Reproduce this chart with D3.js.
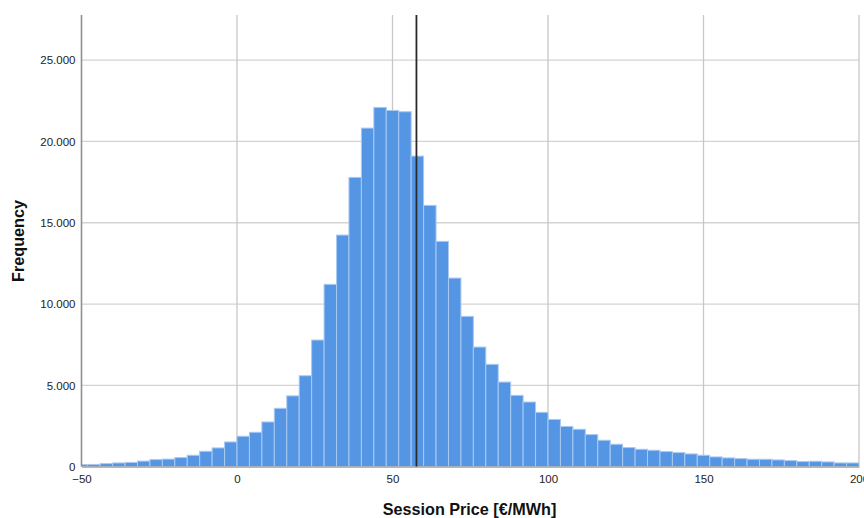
<!DOCTYPE html>
<html><head><meta charset="utf-8">
<script src="https://cdn.jsdelivr.net/npm/d3@7"></script>
<style>
html,body{margin:0;padding:0;background:#fff;}
svg{display:block;font-family:"Liberation Sans",Arial,sans-serif;}
</style></head>
<body>
<svg id="chart" width="864" height="518"></svg>
<script>
// Histogram data: bins of width 4 starting at -52 (first bin clipped at -50)
const binStart = -52;
const binWidth = 4;
const counts = [123,133,184,225,256,338,430,461,553,697,
  943,1148,1516,1865,2111,2746,3586,4350,5590,7786,
  11211,14243,17790,20822,22095,21910,21829,19100,16068,13855,
  11597,9241,7354,6290,5200,4382,3972,3338,2900,2470,
  2296,1968,1620,1374,1169,1066,1005,923,861,779,
  697,595,533,492,451,451,410,369,308,328,
  287,226,226];
const meanValue = 57.7;
const xTicks = [-50, 0, 50, 100, 150, 200];
const yTicks = [0, 5000, 10000, 15000, 20000, 25000];
const xDomain = [-50, 200];
const yMax = 27780;
const xTitle = "Session Price [€/MWh]";
const yTitle = "Frequency";

(function () {
const svg = d3.select("#chart");
const pL = 81.5, pR = 859, pT = 15, pB = 466.6;
const x = d3.scaleLinear().domain(xDomain).range([pL, pR]);
const y = d3.scaleLinear().domain([0, yMax]).range([pB, pT]);
const loc = d3.formatLocale({decimal: ",", thousands: ".", grouping: [3], currency: ["", ""]});
const fmt = loc.format(",d");

svg.append("defs").append("clipPath").attr("id", "clip")
  .append("rect").attr("x", pL).attr("y", pT).attr("width", pR - pL).attr("height", pB - pT);

// gridlines
const grid = svg.append("g");
grid.selectAll("line.h").data(yTicks.filter(d => d > 0)).join("line")
  .attr("x1", pL).attr("x2", pR)
  .attr("y1", d => y(d)).attr("y2", d => y(d))
  .attr("stroke", "#d3d3d3").attr("stroke-width", 1.3);
grid.selectAll("line.v").data(xTicks.filter(d => d > xDomain[0])).join("line")
  .attr("x1", d => x(d)).attr("x2", d => x(d))
  .attr("y1", pT).attr("y2", pB)
  .attr("stroke", "#c8c8c8").attr("stroke-width", 1.3);

// bars
const bins = counts.map((c, i) => ({x0: binStart + i * binWidth, x1: binStart + (i + 1) * binWidth, c}));
svg.append("g").attr("clip-path", "url(#clip)")
  .selectAll("rect").data(bins).join("rect")
  .attr("x", d => x(d.x0)).attr("width", d => x(d.x1) - x(d.x0))
  .attr("y", d => y(d.c)).attr("height", d => y(0) - y(d.c))
  .attr("fill", "#5596e4").attr("stroke", "#a9c9f2").attr("stroke-width", 1);

// axes
const xAxis = svg.append("g").attr("transform", `translate(0,${pB})`)
  .call(d3.axisBottom(x).tickValues(xTicks).tickSize(0).tickPadding(8).tickFormat(fmt));
xAxis.select(".domain").attr("stroke", "#a0a0a0").attr("stroke-width", 1.5);
xAxis.selectAll("text").attr("font-size", 11.5).attr("fill", "#222").attr("font-family", "Liberation Sans, Arial, sans-serif");

const yAxis = svg.append("g").attr("transform", `translate(${pL},0)`)
  .call(d3.axisLeft(y).tickValues(yTicks).tickSize(0).tickPadding(6).tickFormat(fmt));
yAxis.select(".domain").remove();
yAxis.selectAll("text").attr("font-size", 11.5).attr("fill", "#222").attr("font-family", "Liberation Sans, Arial, sans-serif");
svg.append("line").attr("x1", pL).attr("x2", pL).attr("y1", pT).attr("y2", pB)
  .attr("stroke", "#909090").attr("stroke-width", 1.6);

// mean line
svg.append("line").attr("x1", x(meanValue)).attr("x2", x(meanValue))
  .attr("y1", pT).attr("y2", pB)
  .attr("stroke", "#2a2a2a").attr("stroke-width", 1.8);

// titles
svg.append("text").attr("x", 469.5).attr("y", 515)
  .attr("text-anchor", "middle").attr("font-weight", "bold").attr("font-size", 16.2)
  .attr("fill", "#111").text(xTitle);
svg.append("text").attr("transform", "translate(24,241) rotate(-90)")
  .attr("text-anchor", "middle").attr("font-weight", "bold").attr("font-size", 16.2)
  .attr("fill", "#111").text(yTitle);
})();
</script>
</body></html>
